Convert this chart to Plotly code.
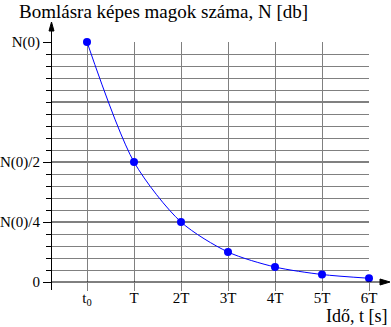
import plotly.graph_objects as go

# ---- data ----
categories = ["t<sub>0</sub>", "T", "2T", "3T", "4T", "5T", "6T"]
x_pos = [0, 1, 2, 3, 4, 5, 6]
values = [1.0, 0.5, 0.25, 0.125, 0.0625, 0.03125, 0.015625]
y_tickvals = [0, 0.25, 0.5, 1.0]
y_ticktext = ["0", "N(0)/4", "N(0)/2", "N(0)"]
black_lines = [0.25, 0.5, 0.75]
title_text = "Bomlásra képes magok száma, N [db]"
xtitle_text = "Idő, t [s]"

W, H = 391, 327
L, R, T, B = 52, 22, 42, 45
PW, PH = W - L - R, H - T - B

def px(p):   # pixel x -> paper x
    return (p - L) / PW

def py(p):   # pixel y -> paper y
    return (H - B - p) / PH

FONT = "Liberation Serif, Times New Roman, serif"

fig = go.Figure()
fig.add_trace(go.Scatter(
    x=x_pos, y=values, mode="lines+markers",
    line=dict(color="#0000FF", width=1, shape="spline", smoothing=0.8),
    marker=dict(color="#0000FF", size=8),
    cliponaxis=False, hoverinfo="skip", showlegend=False,
))

shapes = []
for v in black_lines:
    shapes.append(dict(type="line", xref="paper", yref="y", x0=0, x1=1, y0=v, y1=v,
                       line=dict(color="black", width=1), layer="between"))
# axes with arrows
shapes.append(dict(type="line", xref="paper", yref="paper", x0=px(51.5), x1=px(51.5),
                   y0=py(290), y1=py(30), line=dict(color="black", width=1), layer="above"))
shapes.append(dict(type="path", xref="paper", yref="paper",
                   path=f"M {px(51.5)} {py(22)} L {px(49)} {py(31)} L {px(54)} {py(31)} Z",
                   fillcolor="black", line=dict(color="black", width=1), layer="above"))
shapes.append(dict(type="line", xref="paper", yref="paper", x0=px(51.5), x1=px(381),
                   y0=py(282), y1=py(282), line=dict(color="black", width=1), layer="above"))
shapes.append(dict(type="path", xref="paper", yref="paper",
                   path=f"M {px(390)} {py(282)} L {px(380)} {py(279)} L {px(380)} {py(285)} Z",
                   fillcolor="black", line=dict(color="black", width=1), layer="above"))

annotations = [
    dict(text=title_text, xref="paper", yref="paper", x=px(17), y=py(11),
         xanchor="left", yanchor="middle", showarrow=False,
         font=dict(family=FONT, size=19, color="black")),
    dict(text=xtitle_text, xref="paper", yref="paper", x=px(390), y=py(316),
         xanchor="right", yanchor="middle", showarrow=False,
         font=dict(family=FONT, size=18, color="black")),
]

fig.update_layout(
    width=W, height=H,
    margin=dict(l=L, r=R, t=T, b=B, pad=0, autoexpand=False),
    paper_bgcolor="white", plot_bgcolor="white",
    font=dict(family=FONT, size=15, color="black"),
    shapes=shapes, annotations=annotations,
    xaxis=dict(range=[-35 / 47, 6], tickmode="array", tickvals=x_pos, ticktext=categories,
               ticks="outside", ticklen=8, tickcolor="#808080", tickwidth=1,
               ticklabelstandoff=-6,
               showgrid=True, gridcolor="#808080", gridwidth=1, automargin=False,
               zeroline=False, showline=False, fixedrange=True),
    yaxis=dict(range=[0, 1], tickmode="array", tickvals=y_tickvals, ticktext=y_ticktext,
               ticks="outside", ticklen=8, tickcolor="black", tickwidth=1,
               showgrid=True, gridcolor="#808080", gridwidth=1, automargin=False,
               minor=dict(tick0=0, dtick=0.05, ticks="outside", ticklen=5,
                          tickcolor="black", showgrid=True, gridcolor="#808080"),
               zeroline=False, showline=False, fixedrange=True),
)

fig.write_html("out.html", config={"displayModeBar": False},
               post_script="document.body.style.margin='0';document.body.style.overflow='hidden';")
